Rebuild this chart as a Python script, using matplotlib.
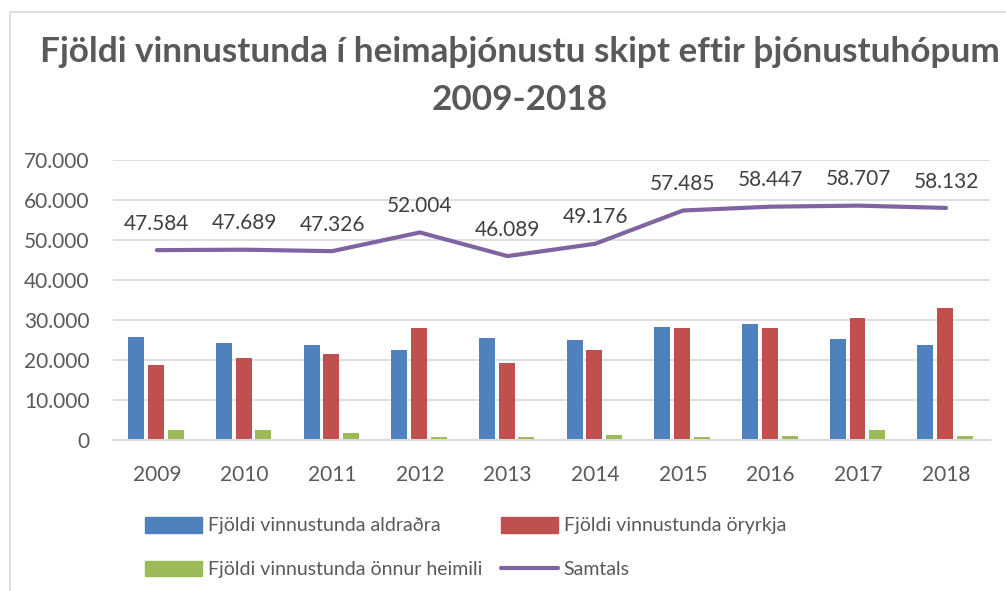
import matplotlib
matplotlib.use("Agg")
import matplotlib.pyplot as plt
from matplotlib.patches import Patch, Rectangle
from matplotlib.lines import Line2D
import numpy as np

years = ["2009", "2010", "2011", "2012", "2013", "2014", "2015", "2016", "2017", "2018"]
aldradra = [25900, 24400, 23900, 22600, 25600, 25100, 28400, 29100, 25400, 23900]
oryrkja = [18900, 20600, 21600, 28100, 19400, 22600, 28100, 28100, 30600, 33100]
onnur = [2600, 2600, 1900, 900, 900, 1400, 900, 1100, 2600, 1100]
samtals = [47584, 47689, 47326, 52004, 46089, 49176, 57485, 58447, 58707, 58132]

BLUE = "#4F81BD"
RED = "#C0504D"
GREEN = "#9BBB59"
PURPLE = "#8064A2"
GRID = "#D9D9D9"
TXT = "#595959"

plt.rcParams["font.family"] = ["Lato", "DejaVu Sans"]

fig = plt.figure(figsize=(10.06, 5.91), dpi=100)
ax = fig.add_axes([0.1123, 0.2547, 0.8717, 0.4738])

# chart frame (cropped on the right/bottom in the original)
fig.patches.append(Rectangle((10 / 1006, -0.05), 1.2, 1 - 12 / 591 + 0.05,
                             transform=fig.transFigure, fill=False,
                             edgecolor=GRID, lw=1.2))

x = np.arange(len(years))
w = 0.182
ax.bar(x - 0.235, aldradra, w, color=BLUE, zorder=2)
ax.bar(x - 0.01, oryrkja, w, color=RED, zorder=2)
ax.bar(x + 0.215, onnur, w, color=GREEN, zorder=2)
ax.plot(x, samtals, color=PURPLE, lw=3, solid_capstyle="round", zorder=3)

for xi, v in zip(x, samtals):
    ax.annotate(f"{v / 1000:.3f}", (xi, v), xytext=(0, 19), textcoords="offset points",
                ha="center", va="center", fontsize=15, color="#404040")

ax.set_xlim(-0.5, len(years) - 0.5)
ax.set_ylim(0, 70000)
ax.set_yticks(range(0, 70001, 10000))
ax.set_yticklabels(["0"] + [f"{t // 1000}.000" for t in range(10000, 70001, 10000)])
ax.set_xticks(x)
ax.set_xticklabels(years)
ax.tick_params(axis="both", length=0, labelsize=15, labelcolor=TXT)
ax.tick_params(axis="y", pad=17)
ax.tick_params(axis="x", pad=18)
ax.grid(axis="y", color=GRID, lw=1.2, zorder=0)
ax.set_axisbelow(True)
for s in ["top", "right", "left"]:
    ax.spines[s].set_visible(False)
ax.spines["bottom"].set_color(GRID)
ax.spines["bottom"].set_linewidth(1.5)

fig.text(520 / 1006, 1 - 52 / 591, "Fjöldi vinnustunda í heimaþjónustu skipt eftir þjónustuhópum",
         ha="center", va="center", fontsize=25.3, fontweight="bold", color=TXT)
fig.text(520 / 1006, 1 - 100 / 591, "2009-2018",
         ha="center", va="center", fontsize=25.3, fontweight="bold", color=TXT)

# legend: two columns placed separately
leg_kw = dict(loc="upper left", frameon=False, fontsize=14, labelcolor=TXT,
              handlelength=2.93, handleheight=0.85, handletextpad=0.3,
              labelspacing=1.35, borderpad=0, borderaxespad=0)
fig.legend([Patch(color=BLUE), Patch(color=GREEN)],
           ["Fjöldi vinnustunda aldraðra", "Fjöldi vinnustunda önnur heimili"],
           bbox_to_anchor=(145 / 1006, 1 - 517 / 591), **leg_kw)
fig.legend([Patch(color=RED), Line2D([], [], color=PURPLE, lw=3, solid_capstyle="round")],
           ["Fjöldi vinnustunda öryrkja", "Samtals"],
           bbox_to_anchor=(501 / 1006, 1 - 517 / 591), **leg_kw)

fig.savefig("out.png", dpi=100)
